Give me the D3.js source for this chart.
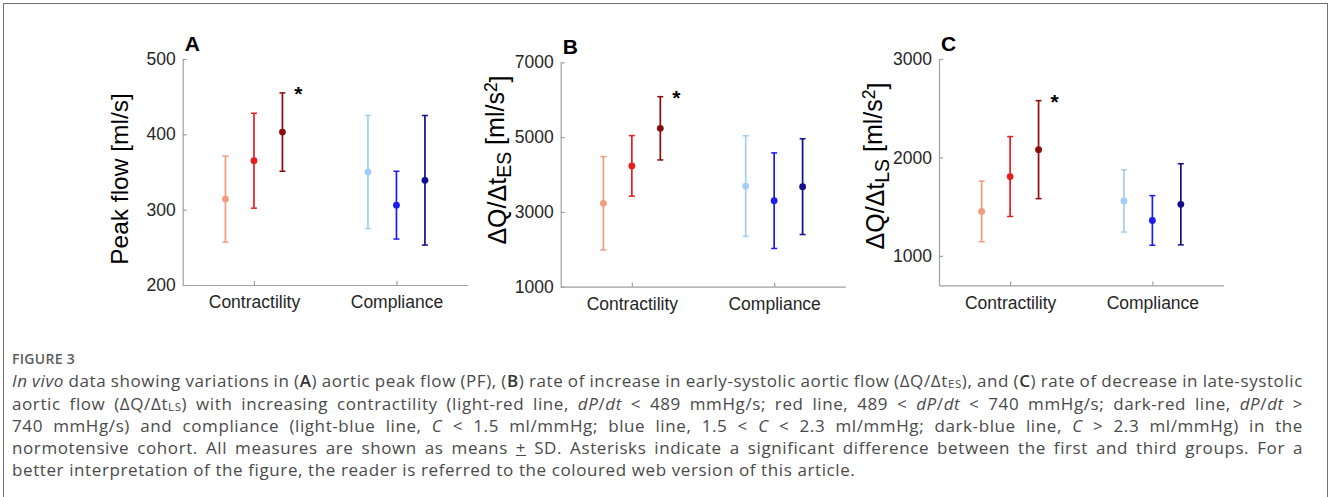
<!DOCTYPE html>
<html>
<head>
<meta charset="utf-8">
<script src="https://cdn.jsdelivr.net/npm/d3@7"></script>
<style>
  body { margin: 0; width: 1328px; height: 497px; overflow: hidden; position: relative; background: #fff; }
  #frame { position: absolute; left: 3px; top: 3px; width: 1325px; height: 600px; box-sizing: border-box; border: 1.5px solid #707070; }
  #chart { position: absolute; left: 0; top: 0; }
  #caption { position: absolute; left: 12px; top: 348px; width: 1291px; font-family: 'Open Sans', sans-serif; font-size: 17px; letter-spacing: 0.6px; line-height: 22.3px; color: #4a4a4a; }
  #caption .line { white-space: nowrap; }
  #caption .fig { font-size: 14px; letter-spacing: 0.3px; font-weight: 600; color: #5c5c5c; }
  #caption b { font-weight: 600; color: #333; }
  #caption sub { font-size: 0.68em; vertical-align: -0.1em; line-height: 0; }
</style>
</head>
<body>
<div id="frame"></div>
<svg id="chart" width="1328" height="340"></svg>
<div id="caption">
  <div class="fig">FIGURE 3</div>
  <div><span class="line"><i>In vivo</i> data showing variations in (<b>A</b>) aortic peak flow (PF), (<b>B</b>) rate of increase in early-systolic aortic flow (ΔQ/Δt<sub>ES</sub>), and (<b>C</b>) rate of decrease in late-systolic</span></div>
  <div><span class="line">aortic flow (ΔQ/Δt<sub>LS</sub>) with increasing contractility (light-red line, <i>dP</i>/<i>dt</i> &lt; 489 mmHg/s; red line, 489 &lt; <i>dP</i>/<i>dt</i> &lt; 740 mmHg/s; dark-red line, <i>dP</i>/<i>dt</i> &gt;</span></div>
  <div><span class="line">740 mmHg/s) and compliance (light-blue line, <i>C</i> &lt; 1.5 ml/mmHg; blue line, 1.5 &lt; <i>C</i> &lt; 2.3 ml/mmHg; dark-blue line, <i>C</i> &gt; 2.3 ml/mmHg) in the</span></div>
  <div><span class="line">normotensive cohort. All measures are shown as means <u>+</u> SD. Asterisks indicate a significant difference between the first and third groups. For a</span></div>
  <div><span class="line">better interpretation of the figure, the reader is referred to the coloured web version of this article.</span></div>
</div>
<script>
// Grupos no eixo x e os tres niveis dentro de cada grupo
const GROUPS = ['Contractility', 'Compliance']

// (A) Peak flow [ml/s]
const PF_MEAN = [314, 365, 403, 350, 306, 339]
const PF_SD = [57, 63, 52, 75, 45, 86]
const PF_TICKS = [200, 300, 400, 500]

// (B) dQ/dt ES [ml/s^2]
const ES_MEAN = [3230, 4230, 5235, 3690, 3300, 3675]
const ES_SD = [1248, 810, 846, 1346, 1278, 1280]
const ES_TICKS = [1000, 3000, 5000, 7000]

// (C) dQ/dt LS [ml/s^2]
const LS_MEAN = [1452, 1806, 2079, 1558, 1360, 1524]
const LS_SD = [308, 406, 498, 316, 252, 412]
const LS_TICKS = [1000, 2000, 3000]

const STAR_INDEX = 2 // diferenca significativa (primeiro vs terceiro grupo de contractilidade)

// Estilo
const COLORS = ['#f29b7d', '#e61e1e', '#8a0c0c', '#a3cdf7', '#1c1cf2', '#0f0f8c']
const FONT = "'Liberation Sans', Arial, Helvetica, sans-serif"
const OFFSET = 0.2
const AXIS_COLOR = '#a0a0a0'
const TEXT_COLOR = '#262626'

const PANELS = [
  { tag: 'A', mean: PF_MEAN, sd: PF_SD, ticks: PF_TICKS, domain: [200, 500], left: 182.7, right: 467.7, top: 59, bottom: 285, labelX: 128, labelY: 179, titleSize: 24.5 },
  { tag: 'B', mean: ES_MEAN, sd: ES_SD, ticks: ES_TICKS, domain: [1000, 7000], left: 560.7, right: 845.3, top: 62.3, bottom: 286.7, labelX: 506, labelY: 160, sub: 'ES', titleSize: 25 },
  { tag: 'C', mean: LS_MEAN, sd: LS_SD, ticks: LS_TICKS, domain: [700, 3000], left: 939, right: 1223.5, top: 59, bottom: 285.4, labelX: 884, labelY: 166, sub: 'LS', titleSize: 25 }
]

const svg = d3.select('#chart')

PANELS.forEach(p => {
  const x = d3.scaleLinear().domain([0.5, 2.5]).range([p.left, p.right])
  const y = d3.scaleLinear().domain(p.domain).range([p.bottom, p.top])

  const g = svg.append('g')

  // eixos (ticks para dentro, estilo MATLAB)
  g.append('g')
    .attr('transform', `translate(0,${p.bottom})`)
    .call(d3.axisBottom(x).tickValues([1, 2]).tickFormat(d => GROUPS[d - 1]).tickSizeInner(-4).tickSizeOuter(0).tickPadding(11))
    .call(ax => styleAxis(ax))

  g.append('g')
    .attr('transform', `translate(${p.left},0)`)
    .call(d3.axisLeft(y).tickValues(p.ticks).tickFormat(d3.format('d')).tickSizeInner(-4).tickSizeOuter(0).tickPadding(7))
    .call(ax => styleAxis(ax))

  // dados: media +/- SD
  const rows = p.mean.map((m, i) => ({
    xv: Math.floor(i / 3) + 1 + (i % 3 - 1) * OFFSET,
    m,
    sd: p.sd[i],
    color: COLORS[i]
  }))

  const bars = g.selectAll('g.bar')
    .data(rows)
    .join('g')
    .attr('class', 'bar')
    .attr('stroke', d => d.color)
    .attr('fill', d => d.color)

  bars.append('line')
    .attr('x1', d => x(d.xv)).attr('x2', d => x(d.xv))
    .attr('y1', d => y(d.m - d.sd)).attr('y2', d => y(d.m + d.sd))
    .attr('stroke-width', 1.7)

  bars.selectAll('line.cap')
    .data(d => [{ xv: d.xv, v: d.m - d.sd }, { xv: d.xv, v: d.m + d.sd }])
    .join('line')
    .attr('class', 'cap')
    .attr('x1', d => x(d.xv) - 3).attr('x2', d => x(d.xv) + 3)
    .attr('y1', d => y(d.v)).attr('y2', d => y(d.v))
    .attr('stroke-width', 1.5)

  bars.append('circle')
    .attr('cx', d => x(d.xv))
    .attr('cy', d => y(d.m))
    .attr('r', 3.4)
    .attr('stroke', 'none')

  // asterisco
  const s = rows[STAR_INDEX]
  g.append('text')
    .attr('x', x(s.xv) + 16)
    .attr('y', y(s.m + s.sd) + 8)
    .attr('text-anchor', 'middle')
    .style('font-family', FONT)
    .style('font-weight', 'bold')
    .style('font-size', '21px')
    .style('fill', '#000')
    .text('*')

  // letra do painel
  g.append('text')
    .attr('x', p.left + 2)
    .attr('y', p.top - 8)
    .style('font-family', FONT)
    .style('font-weight', 'bold')
    .style('font-size', '21px')
    .style('fill', '#000')
    .text(p.tag)

  // legenda eixo y
  const t = g.append('text')
    .attr('text-anchor', 'middle')
    .attr('transform', `translate(${p.labelX},${p.labelY}) rotate(-90)`)
    .style('font-family', FONT)
    .style('font-size', p.titleSize + 'px')
    .style('fill', '#000')

  if (!p.sub) {
    t.text('Peak flow [ml/s]')
  } else {
    t.append('tspan').text('ΔQ/Δt')
    t.append('tspan').attr('dy', '0.28em').style('font-size', '0.78em').text(p.sub)
    t.append('tspan').attr('dy', '-0.28em').text(' [ml/s')
    t.append('tspan').attr('dy', '-0.45em').style('font-size', '0.7em').text('2')
    t.append('tspan').attr('dy', '0.45em').text(']')
  }
})

function styleAxis (ax) {
  ax.select('.domain').attr('stroke', AXIS_COLOR).attr('stroke-width', 1.2)
  ax.selectAll('.tick line').attr('stroke', AXIS_COLOR).attr('stroke-width', 1.2)
  ax.selectAll('.tick text')
    .style('font-family', FONT)
    .style('font-size', '17.5px')
    .attr('fill', TEXT_COLOR)
}

// Justifica cada linha da legenda (a ultima fica alinhada a esquerda)
function justifyCaption () {
  const lines = document.querySelectorAll('#caption .line')
  const WIDTH = 1291
  lines.forEach((el, i) => {
    if (i === lines.length - 1) return
    const spaces = (el.textContent.match(/ /g) || []).length
    const natural = el.getBoundingClientRect().width
    el.style.wordSpacing = ((WIDTH - natural) / spaces) + 'px'
  })
}

justifyCaption()
</script>
</body>
</html>
